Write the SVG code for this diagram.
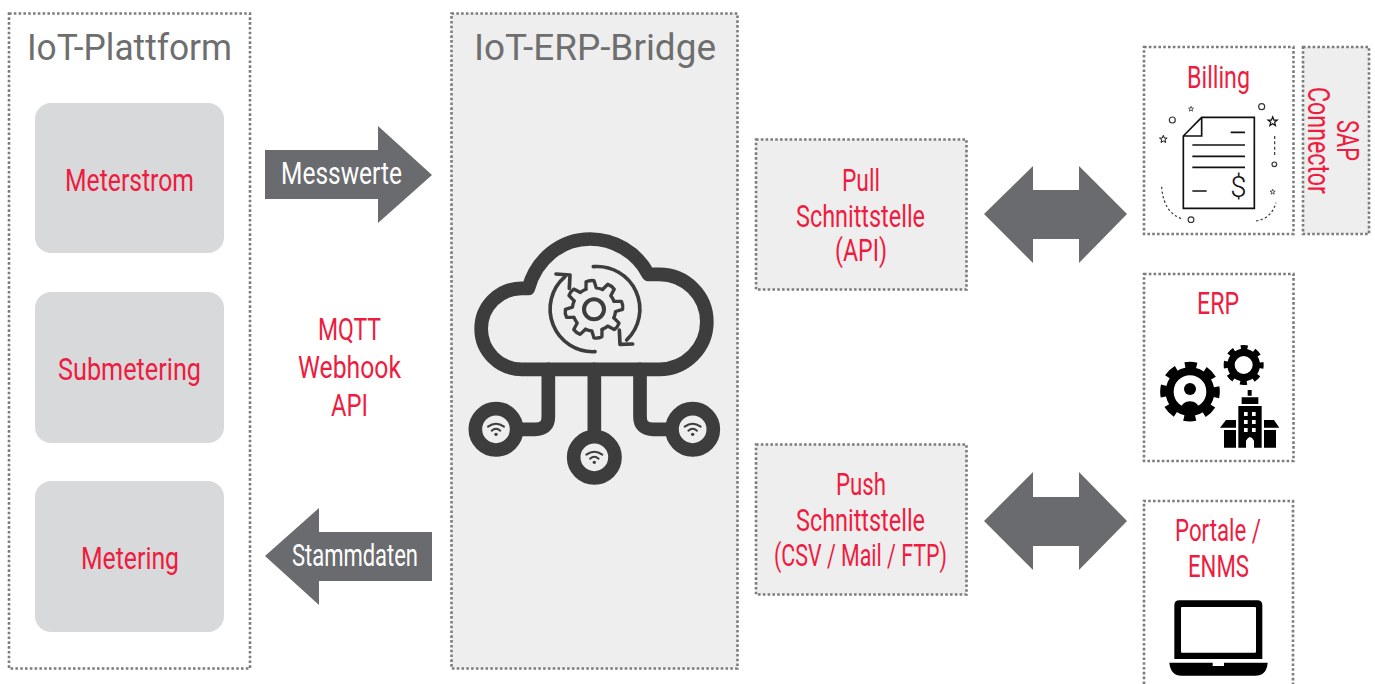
<svg xmlns="http://www.w3.org/2000/svg" xmlns:xlink="http://www.w3.org/1999/xlink" width="1375" height="684" viewBox="0 0 1375 684">
<style>
text{font-family:Roboto,"Liberation Sans",sans-serif;font-size:31px;fill:#ee1c40}
.title{font-size:37px;fill:#6e6e6e}
.w{fill:#fff}
.dot{stroke:#7c7c7c;stroke-width:2.6;stroke-dasharray:2.6 2.2;fill:none}
.dotg{stroke:#7c7c7c;stroke-width:2.6;stroke-dasharray:2.6 2.2;fill:#eee}
.tile{fill:#d8d9da}
.arrow{fill:#6a6b6e}
.ic{fill:none;stroke:#3d3d3d;stroke-linecap:round;stroke-linejoin:round}
.thin{fill:none;stroke:#111;stroke-width:5}
.k{fill:#000}
</style>
<defs>
<path id="tooth" d="M-15.5,-63 L-12,-85 Q0,-89 12,-85 L15.5,-63 A65,65 0 0 1 33.500,-55.500" fill="none" stroke="#3d3d3d" stroke-width="10" stroke-linecap="round" stroke-linejoin="round"/>
<g id="wifi" fill="none" stroke="#3d3d3d" stroke-width="6" stroke-linecap="round">
<path d="M-24,-8 Q0,-26 24,-8"/><path d="M-13,4 Q0,-7 13,4"/><circle cx="0" cy="15" r="5" fill="#3d3d3d" stroke="none"/>
</g>
<polygon id="star" points="0,-10 2.6,-3.2 9.5,-3.1 4,1.3 5.9,8.1 0,4.2 -5.9,8.1 -4,1.3 -9.5,-3.1 -2.6,-3.2" fill="none" stroke="#111" stroke-width="2.5"/>
</defs>

<g id="connectors">
<polygon class="arrow" points="265,150 378,150 378,126 432,175 378,223 378,199 265,199"/>
<polygon class="arrow" points="432,532 319,532 319,508 265,556 319,605 319,581 432,581"/>
<polygon class="arrow" points="984,214 1033,166 1033,190 1079,190 1079,166 1127,214 1079,263 1079,239 1033,239 1033,263"/>
<polygon class="arrow" points="984,521 1033,472 1033,497 1079,497 1079,472 1127,521 1079,570 1079,546 1033,546 1033,570"/>
<text class="w" x="281" y="184" textLength="121" lengthAdjust="spacingAndGlyphs">Messwerte</text>
<text class="w" x="292" y="566" textLength="126" lengthAdjust="spacingAndGlyphs">Stammdaten</text>
</g>

<g id="iot-plattform">
<rect class="dot" x="9" y="13.500" width="241" height="655"/>
<text class="title" x="27" y="60" textLength="205" lengthAdjust="spacingAndGlyphs">IoT-Plattform</text>
</g>
<g id="meterstrom"><rect class="tile" x="35" y="103" width="189" height="150" rx="16"/><text x="65" y="191" textLength="129" lengthAdjust="spacingAndGlyphs">Meterstrom</text></g>
<g id="submetering"><rect class="tile" x="35" y="292" width="189" height="151" rx="16"/><text x="58" y="380" textLength="143" lengthAdjust="spacingAndGlyphs">Submetering</text></g>
<g id="metering"><rect class="tile" x="35" y="481" width="189" height="151" rx="16"/><text x="81" y="569" textLength="98" lengthAdjust="spacingAndGlyphs">Metering</text></g>

<g id="protocols">
<text x="318" y="340" textLength="63" lengthAdjust="spacingAndGlyphs">MQTT</text>
<text x="298" y="378" textLength="103" lengthAdjust="spacingAndGlyphs">Webhook</text>
<text x="331" y="416" textLength="37" lengthAdjust="spacingAndGlyphs">API</text>
</g>

<g id="bridge">
<rect class="dotg" x="451.500" y="13.500" width="286" height="655"/>
<text class="title" x="474" y="60" textLength="242" lengthAdjust="spacingAndGlyphs">IoT-ERP-Bridge</text>
<g transform="translate(450,220) scale(.33333)">
<g class="ic" stroke-width="41">
<path d="M215,448 L628,448 A142.500,142.500 0 0 0 628,163 L595,163 C560,95 490,57 420,57 C335,57 260,115 235,205 L215,205 A121,121 0 0 0 215,448 Z"/>
<path d="M295,448 V590 Q295,628 255,628 H138"/>
<path d="M433,448 V712"/>
<path d="M570,448 V590 Q570,628 610,628 H728"/>
</g>
<g fill="#eee" stroke="#3d3d3d" stroke-width="41">
<circle cx="138" cy="628" r="62"/><circle cx="433" cy="712" r="62"/><circle cx="728" cy="628" r="62"/>
</g>
<use xlink:href="#wifi" href="#wifi" x="138" y="628"/><use xlink:href="#wifi" href="#wifi" x="433" y="712"/><use xlink:href="#wifi" href="#wifi" x="728" y="628"/>
<g class="ic" stroke-width="11">
<path d="M435,395 A128,128 0 0 1 345,170"/><path d="M318,162 L360,165 L358,205"/>
<path d="M430,140 A128,128 0 0 1 530,360"/><path d="M508,330 L510,373 L548,372"/>
<circle cx="432" cy="268" r="30" stroke-width="12"/>
</g>
<g transform="translate(432,268) rotate(-8)">
<use xlink:href="#tooth" href="#tooth"/><use xlink:href="#tooth" href="#tooth" transform="rotate(45)"/><use xlink:href="#tooth" href="#tooth" transform="rotate(90)"/><use xlink:href="#tooth" href="#tooth" transform="rotate(135)"/><use xlink:href="#tooth" href="#tooth" transform="rotate(180)"/><use xlink:href="#tooth" href="#tooth" transform="rotate(225)"/><use xlink:href="#tooth" href="#tooth" transform="rotate(270)"/><use xlink:href="#tooth" href="#tooth" transform="rotate(315)"/>
</g>
</g>
</g>

<g id="pull">
<rect class="dotg" x="756" y="139.500" width="210.500" height="150"/>
<text x="842" y="191" textLength="38" lengthAdjust="spacingAndGlyphs">Pull</text>
<text x="796" y="227" textLength="129" lengthAdjust="spacingAndGlyphs">Schnittstelle</text>
<text x="835" y="261" textLength="52" lengthAdjust="spacingAndGlyphs">(API)</text>
</g>
<g id="push">
<rect class="dotg" x="756" y="444.500" width="210.500" height="150"/>
<text x="836" y="495" textLength="50" lengthAdjust="spacingAndGlyphs">Push</text>
<text x="796" y="531" textLength="129" lengthAdjust="spacingAndGlyphs">Schnittstelle</text>
<text x="774" y="566" textLength="173" lengthAdjust="spacingAndGlyphs">(CSV / Mail / FTP)</text>
</g>

<g id="billing">
<rect class="dot" x="1144" y="47" width="149.500" height="187"/>
<text x="1187" y="88" textLength="63" lengthAdjust="spacingAndGlyphs">Billing</text>
<g transform="translate(1140,40) scale(.33333)">
<path class="thin" d="M130,288 L185,232 H343 V505 H130 Z M185,232 V288 H130"/>
<path class="thin" d="M272,277 H315 M157,315 H315 M157,349 H315 M157,382 H315 M157,453 H200"/>
<text x="295" y="471" text-anchor="middle" style="font-weight:300;font-size:88px;fill:#111">$</text>
<g fill="none" stroke="#333" stroke-width="3.500">
<circle cx="97" cy="240" r="9"/><circle cx="365" cy="200" r="9"/><circle cx="403" cy="373" r="7"/><circle cx="153" cy="539" r="8.500"/>
<path d="M404,288 V350" stroke-dasharray="9 7"/>
<path d="M65,440 Q70,520 130,538" stroke-dasharray="7 7"/>
<path d="M348,543 Q395,535 408,488" stroke-dasharray="7 7"/>
</g>
<use xlink:href="#star" href="#star" transform="translate(153,207) scale(.8)"/>
<use xlink:href="#star" href="#star" transform="translate(398,245) scale(1.45)"/>
<use xlink:href="#star" href="#star" transform="translate(70,298) scale(1.2)"/>
<use xlink:href="#star" href="#star" transform="translate(398,456) scale(.8)"/>
</g>
</g>

<g id="sap-connector">
<rect class="dotg" x="1303" y="47" width="66" height="187"/>
<text transform="translate(1337,120) rotate(90)" textLength="41" lengthAdjust="spacingAndGlyphs">SAP</text>
<text transform="translate(1307.500,87) rotate(90)" textLength="107" lengthAdjust="spacingAndGlyphs">Connector</text>
</g>

<g id="erp">
<rect class="dot" x="1144" y="274" width="149.500" height="187"/>
<text x="1197" y="314" textLength="42" lengthAdjust="spacingAndGlyphs">ERP</text>
<g transform="translate(1140,270) scale(.33333)">
<circle cx="150" cy="365" r="76" fill="none" stroke="#000" stroke-width="27" stroke-dasharray="34 25.690" stroke-dashoffset="17"/>
<circle cx="150" cy="365" r="61" fill="none" stroke="#000" stroke-width="24"/>
<circle cx="150" cy="357" r="18" class="k"/>
<path class="k" d="M122,420 C122,385 178,385 178,420 L176,432 H124 Z"/>
<circle cx="311" cy="285" r="51" fill="none" stroke="#000" stroke-width="18" stroke-dasharray="20 20.050" stroke-dashoffset="10"/>
<circle cx="311" cy="285" r="38" fill="none" stroke="#000" stroke-width="22"/>
<path class="k" d="M323,360 H335 V377 H323 Z M305,382 H355 V402 H305 Z M295,408 H365 V533 H342 V512 Q330,490 318,512 V533 H295 Z"/>
<path d="M312,426 H323 V438 H312 Z M336,426 H347 V438 H336 Z M312,450 H323 V462 H312 Z M336,450 H347 V462 H336 Z M312,474 H323 V486 H312 Z M336,474 H347 V486 H336 Z" fill="#fff"/>
<path class="k" d="M240,473 L258,450 H288 V473 Z M252,480 H288 V533 H252 Z M372,450 H402 L418,473 H372 Z M372,480 H408 V533 H372 Z"/>
</g>
</g>

<g id="portale">
<path class="dot" d="M1144,684 V501 H1293 V684"/>
<text x="1175" y="541" textLength="86" lengthAdjust="spacingAndGlyphs">Portale /</text>
<text x="1188" y="577" textLength="61" lengthAdjust="spacingAndGlyphs">ENMS</text>
<g transform="translate(1140,495) scale(.33333)">
<path class="k" fill-rule="evenodd" d="M118,316 H352 Q367,316 367,331 V492 H103 V331 Q103,316 118,316 Z M126,336 Q123,336 123,339 V470 Q123,473 126,473 H345 Q348,473 348,470 V339 Q348,336 345,336 Z"/>
<path class="k" d="M88,503 H218 V513 H252 V503 H383 Q380,542 345,542 H125 Q92,542 88,503 Z"/>
</g>
</g>
</svg>
